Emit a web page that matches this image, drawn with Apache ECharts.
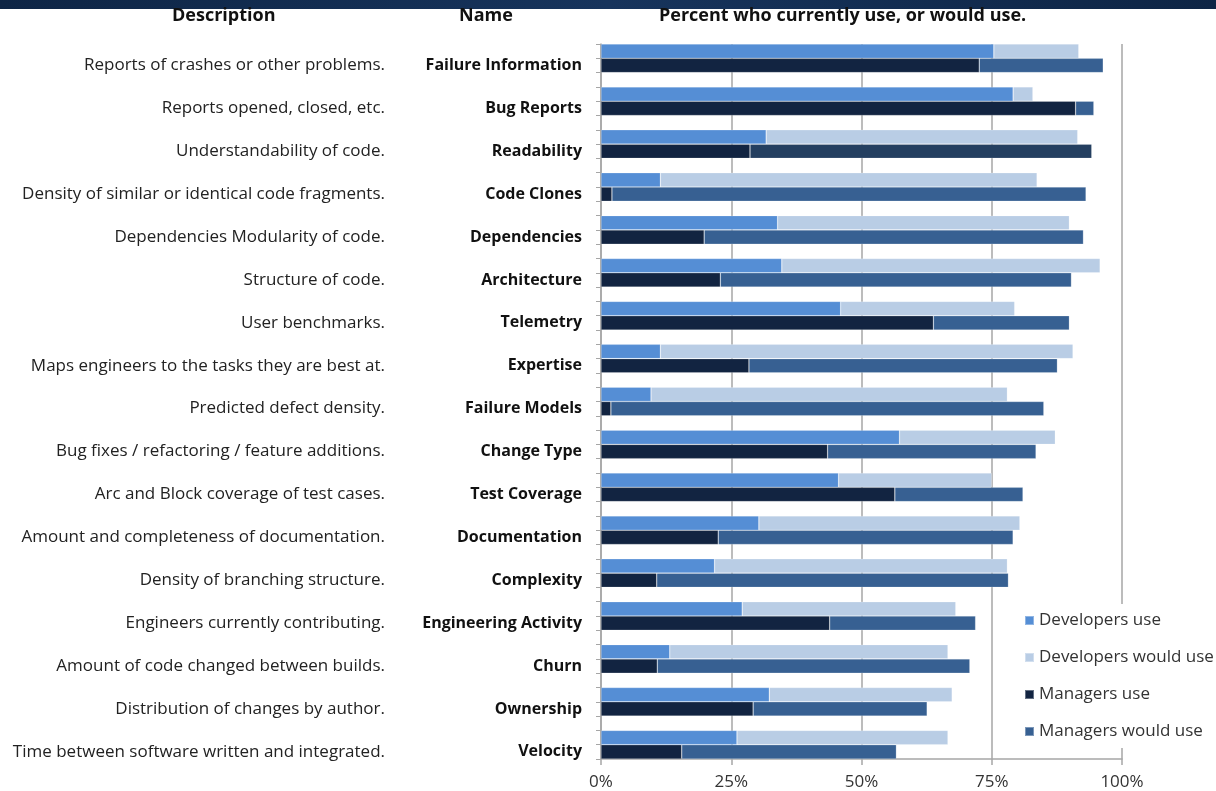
<!DOCTYPE html>
<html>
<head>
<meta charset="utf-8">
<title>Percent who currently use, or would use</title>
<script src="https://cdn.jsdelivr.net/npm/echarts@6/dist/echarts.min.js"></script>
<style>
  html, body { margin: 0; padding: 0; background: #fff; }
  #chart { width: 1216px; height: 791px; }
</style>
</head>
<body>
<div id="chart"></div>
<script>
// data (percent)
const names = ['Failure Information', 'Bug Reports', 'Readability', 'Code Clones', 'Dependencies',
  'Architecture', 'Telemetry', 'Expertise', 'Failure Models', 'Change Type', 'Test Coverage',
  'Documentation', 'Complexity', 'Engineering Activity', 'Churn', 'Ownership', 'Velocity'];
const descriptions = ['Reports of crashes or other problems.', 'Reports opened, closed, etc.',
  'Understandability of code.', 'Density of similar or identical code fragments.',
  'Dependencies Modularity of code.', 'Structure of code.', 'User benchmarks.',
  'Maps engineers to the tasks they are best at.', 'Predicted defect density.',
  'Bug fixes / refactoring / feature additions.', 'Arc and Block coverage of test cases.',
  'Amount and completeness of documentation.', 'Density of branching structure.',
  'Engineers currently contributing.', 'Amount of code changed between builds.',
  'Distribution of changes by author.', 'Time between software written and integrated.'];
const devUse = [75.4, 79.1, 31.7, 11.4, 33.9, 34.7, 46.0, 11.4, 9.6, 57.3, 45.6, 30.3, 21.8, 27.1, 13.2, 32.3, 26.1];
const devWould = [16.3, 3.8, 59.8, 72.3, 56.0, 61.1, 33.4, 79.2, 68.4, 29.9, 29.4, 50.1, 56.2, 41.0, 53.4, 35.1, 40.5];
const mgrUse = [72.6, 91.1, 28.6, 2.1, 19.8, 22.9, 63.8, 28.4, 1.9, 43.5, 56.4, 22.5, 10.7, 43.9, 10.8, 29.2, 15.5];
const mgrWould = [23.8, 3.5, 65.6, 91.0, 72.8, 67.4, 26.1, 59.2, 83.1, 40.0, 24.6, 56.6, 67.5, 28.0, 60.0, 33.4, 41.2];
const xTicks = [0, 25, 50, 75, 100];

const colors = ['#558ed5', '#b9cde5', '#122441', '#376092'];
const FONT = '"Open Sans", Lato, sans-serif';

// every group uses 3 slots: developers, managers, gap (no gap after the last one)
const slotCount = names.length * 3 - 1;
const slots = [];
for (let i = 0; i < slotCount; i++) slots.push('s' + i);

function toSlots(values, offset) {
  const out = new Array(slotCount).fill(null);
  values.forEach((v, i) => { out[i * 3 + offset] = v; });
  return out;
}

// the Readability "managers would use" bar is a darker shade in the original
const readIdx = names.indexOf('Readability');
const mgrWouldData = toSlots(mgrWould, 1).map((v, i) =>
  i === readIdx * 3 + 1 ? {value: v, itemStyle: {color: '#243f60'}} : v);

const seriesList = [
  {name: 'Developers use', data: toSlots(devUse, 0)},
  {name: 'Developers would use', data: toSlots(devWould, 0)},
  {name: 'Managers use', data: toSlots(mgrUse, 1)},
  {name: 'Managers would use', data: mgrWouldData}
].map((s, k) => ({
  type: 'bar',
  name: s.name,
  stack: 'all',
  data: s.data,
  barCategoryGap: 0,
  barGap: 0,
  itemStyle: {color: colors[k], borderColor: 'rgba(255,255,255,0.35)', borderWidth: 0.6},
  emphasis: {disabled: true}
}));

const chart = echarts.init(document.getElementById('chart'));
chart.setOption({
  animation: false,
  textStyle: {fontFamily: FONT},
  grid: {left: 601, right: 94, top: 44, bottom: 31},
  graphic: [
    {type: 'rect', shape: {x: 0, y: 0, width: 1216, height: 9},
      style: {fill: new echarts.graphic.LinearGradient(0, 0, 1, 0, [
        {offset: 0, color: '#0e2545'}, {offset: 0.5, color: '#17345c'}, {offset: 1, color: '#0e2545'}])}},
    {type: 'text', left: 172, top: 7, style: {text: 'Description', font: 'bold 18px ' + FONT, fill: '#111'}},
    {type: 'text', left: 459, top: 7, style: {text: 'Name', font: 'bold 18px ' + FONT, fill: '#111'}},
    {type: 'text', left: 659, top: 7, style: {text: 'Percent who currently use, or would use.', font: 'bold 18px ' + FONT, fill: '#111'}}
  ],
  legend: {
    orient: 'vertical',
    left: 1014,
    top: 604,
    padding: [8, 2, 8, 10],
    backgroundColor: '#fff',
    icon: 'rect',
    itemWidth: 9,
    itemHeight: 9,
    itemGap: 20,
    textStyle: {fontSize: 17, color: '#333', fontFamily: FONT},
    data: seriesList.map(s => s.name)
  },
  xAxis: {
    type: 'value',
    min: 0,
    max: 100,
    interval: 25,
    axisLine: {show: true, lineStyle: {color: '#a6a6a6', width: 1.5}},
    axisTick: {show: true, length: 6, lineStyle: {color: '#a6a6a6', width: 1.5}},
    axisLabel: {formatter: v => xTicks.includes(v) ? v + '%' : '', fontSize: 17, color: '#333', margin: 15},
    splitLine: {show: true, lineStyle: {color: '#a6a6a6', width: 1.5}}
  },
  yAxis: {
    type: 'category',
    inverse: true,
    data: slots,
    axisLine: {show: true, lineStyle: {color: '#a6a6a6', width: 1.5}},
    axisTick: {show: true, interval: 0, length: 5, lineStyle: {color: '#a6a6a6'}},
    axisLabel: {
      interval: 0,
      margin: 19,
      formatter: (v, idx) => {
        if (idx % 3 !== 1) return '';
        const g = (idx - 1) / 3;
        return '{d|' + descriptions[g] + '}{n|' + names[g] + '}';
      },
      rich: {
        d: {fontSize: 17, color: '#222', fontFamily: FONT},
        n: {fontSize: 16, color: '#111', fontWeight: 'bold', width: 197, align: 'right', fontFamily: FONT}
      }
    }
  },
  series: seriesList
});
</script>
</body>
</html>
